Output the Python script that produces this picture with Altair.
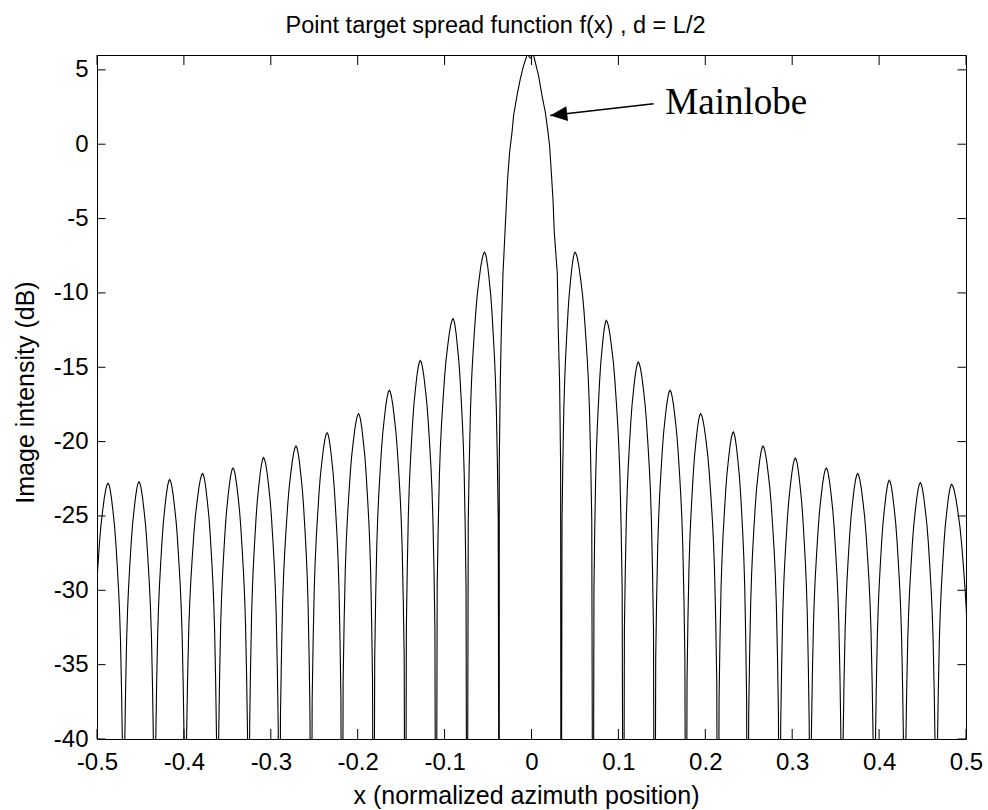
import altair as alt
import pandas as pd

# ---------------- data ----------------
# null positions (x) between lobes; first/last lie just outside the axis
left_nulls = [-0.507, -0.4694, -0.4337, -0.3984, -0.3612, -0.3255, -0.2902,
              -0.2537, -0.2181, -0.1817, -0.1452, -0.1099, -0.0742, -0.0371]
left_peak_x = [-0.4873, -0.4517, -0.4164, -0.3785, -0.3435, -0.3083, -0.2710,
               -0.2352, -0.1990, -0.1636, -0.1280, -0.0903, -0.0540]
left_peak_db = [-22.8, -22.7, -22.55, -22.15, -21.77, -21.08, -20.3,
                -19.4, -18.12, -16.55, -14.54, -11.73, -7.26]

right_nulls = [0.0340, 0.0708, 0.1057, 0.1417, 0.1778, 0.2146, 0.2487,
               0.2855, 0.3208, 0.3573, 0.3945, 0.4294, 0.4658, 0.5065]
right_peak_x = [0.0501, 0.0861, 0.1229, 0.1594, 0.1946, 0.2322, 0.2664,
                0.3036, 0.3392, 0.3753, 0.4117, 0.4474, 0.4834]
right_peak_db = [-7.26, -11.85, -14.65, -16.55, -18.12, -19.35, -20.3,
                 -21.1, -21.77, -22.15, -22.6, -22.76, -22.87]

# sidelobe profile read from one lobe: fraction of the way null->peak, dB below peak
lobe_frac = [0.07, 0.13, 0.20, 0.26, 0.32, 0.40, 0.50, 0.58, 0.68, 0.78, 0.87, 0.94]
lobe_drop = [18.0, 14.0, 10.5, 8.6, 7.2, 5.7, 4.0, 2.9, 1.9, 1.0, 0.4, 0.1]
null_db = -60.0

# mainlobe read point by point
main_x = [-0.0371, -0.0359, -0.0347, -0.0328, -0.0305, -0.0290, -0.0275, -0.0252,
          -0.0224, -0.0206, -0.0167, -0.0129, -0.0091, -0.0048, -0.0014, 0.0021,
          0.0044, 0.0082, 0.0121, 0.0159, 0.0185, 0.0208, 0.0228, 0.0247, 0.0262,
          0.0297, 0.0308, 0.0323, 0.0335]
main_db = [-21.5, -15.9, -12.5, -8.7, -5.91, -4.12, -2.33, -0.54,
           0.81, 1.93, 3.27, 4.4, 5.29, 6.05, 5.8, 6.05,
           5.5, 4.6, 3.27, 2.15, 1.03, -0.09, -1.88, -3.67, -5.91,
           -8.7, -12.5, -15.9, -21.5]

x_ticks = [-0.5, -0.4, -0.3, -0.2, -0.1, 0.0, 0.1, 0.2, 0.3, 0.4, 0.5]
y_ticks = [-40, -35, -30, -25, -20, -15, -10, -5, 0, 5]

arrow_x = [0.1405, 0.0216]
arrow_db = [2.72, 1.93]
label_x = [0.154]
label_db = [2.0]

# ---------------- build the curve table ----------------
xs, ys = [], []


def add_lobes(nulls, pxs, pks):
    for k, (px, pk) in enumerate(zip(pxs, pks)):
        nl, nr = nulls[k], nulls[k + 1]
        xs.append(nl); ys.append(null_db)
        for f, d in zip(lobe_frac, lobe_drop):
            xs.append(nl + f * (px - nl)); ys.append(pk - d)
        xs.append(px); ys.append(pk)
        for f, d in zip(reversed(lobe_frac), reversed(lobe_drop)):
            xs.append(nr - f * (nr - px)); ys.append(pk - d)


add_lobes(left_nulls, left_peak_x, left_peak_db)
xs.append(left_nulls[-1]); ys.append(null_db)
xs.extend(main_x); ys.extend(main_db)
add_lobes(right_nulls, right_peak_x, right_peak_db)
xs.append(right_nulls[-1]); ys.append(null_db)

curve = pd.DataFrame({"x": xs, "db": ys, "i": list(range(len(xs)))})

W, H = 869, 684
FONT = "Liberation Sans"

xscale = alt.Scale(domain=[-0.5, 0.5], nice=False, zero=False)
yscale = alt.Scale(domain=[-40, 6], nice=False, zero=False)

X_AXIS = alt.Axis(
    title="x (normalized azimuth position)", values=x_ticks,
    labelExpr="datum.value == 0 ? '0' : replace(format(datum.value, '.1f'), '\u2212', '-')",
    labelFlush=False, labelOverlap=False, labelBaseline="alphabetic", labelPadding=30,
    titleX=429, titleY=64, titleBaseline="alphabetic", titleAnchor="start",
    titleAlign="center", grid=False, domain=False, ticks=False,
    labelFont=FONT, labelFontSize=24, labelColor="black",
    titleFont=FONT, titleFontSize=25, titleFontWeight="normal", titleColor="black")
Y_AXIS = alt.Axis(
    title="Image intensity (dB)", values=y_ticks,
    labelExpr="replace(format(datum.value, 'd'), '\u2212', '-')",
    labelAlign="right", labelBaseline="middle", labelPadding=9,
    labelOverlap=False, titleAngle=270, titleX=-63.5, titleY=337,
    titleBaseline="alphabetic", titleAlign="center", grid=False, domain=False,
    ticks=False, labelFont=FONT, labelFontSize=24, labelColor="black",
    titleFont=FONT, titleFontSize=25, titleFontWeight="normal", titleColor="black")


def X(field="x"):
    return alt.X(f"{field}:Q", scale=xscale, axis=X_AXIS, title="x (normalized azimuth position)")


def Y(field="db"):
    return alt.Y(f"{field}:Q", scale=yscale, axis=Y_AXIS, title="Image intensity (dB)")


line = alt.Chart(curve).mark_line(color="black", strokeWidth=1.1, clip=True).encode(
    x=X(), y=Y(), order="i:Q")

xt = pd.DataFrame({"x": x_ticks})
yt = pd.DataFrame({"db": y_ticks})
tick_bottom = alt.Chart(xt).mark_rule(color="black", strokeWidth=1).encode(
    x=X(), y=alt.value(H), y2=alt.value(H - 10))
tick_top = alt.Chart(xt).mark_rule(color="black", strokeWidth=1).encode(
    x=X(), y=alt.value(0), y2=alt.value(10))
tick_left = alt.Chart(yt).mark_rule(color="black", strokeWidth=1).encode(
    y=Y(), x=alt.value(0), x2=alt.value(8.5))
tick_right = alt.Chart(yt).mark_rule(color="black", strokeWidth=1).encode(
    y=Y(), x=alt.value(W), x2=alt.value(W - 8.5))

arrow_df = pd.DataFrame({"x": arrow_x, "db": arrow_db, "i": [0, 1]})
arrow_line = alt.Chart(arrow_df).mark_line(color="black", strokeWidth=1.7).encode(
    x=X(), y=Y(), order="i:Q")
head_df = pd.DataFrame({"x": arrow_x[1:], "db": arrow_db[1:]})
arrow_head = alt.Chart(head_df).mark_point(
    shape="M0,0 L1,-0.44 L1,0.44 Z", filled=True, color="black", opacity=1,
    size=1156, angle=353.5, strokeWidth=0).encode(x=X(), y=Y())

label_df = pd.DataFrame({"x": label_x, "db": label_db, "t": ["Mainlobe"]})
label = alt.Chart(label_df).mark_text(
    align="left", baseline="alphabetic", font="Liberation Serif", fontSize=37,
    color="black").encode(x=X(), y=Y(), text="t:N")

chart = alt.layer(line, tick_bottom, tick_top, tick_left, tick_right,
                  arrow_line, arrow_head, label).properties(
    width=W, height=H,
    title=alt.TitleParams("Point target spread function f(x) , d = L/2",
                          font=FONT, fontSize=23.5, fontWeight="normal", color="black",
                          anchor="middle", frame="group", offset=18, dx=-36, dy=20,
                          baseline="alphabetic"),
    padding={"left": 97, "top": 55, "right": 22, "bottom": 71},
    autosize=alt.AutoSizeParams(type="none"),
    background="white",
    view=alt.ViewBackground(stroke="black", strokeWidth=1, fill="white"),
).configure_view(stroke="black", strokeWidth=1).configure_axis(
    domain=False, ticks=False, grid=False, labelFont=FONT, labelFontSize=24,
    labelColor="black", titleFont=FONT, titleFontSize=25, titleFontWeight="normal",
    titleColor="black",
)

chart.save("out.html", embed_options={"renderer": "svg", "actions": False})
